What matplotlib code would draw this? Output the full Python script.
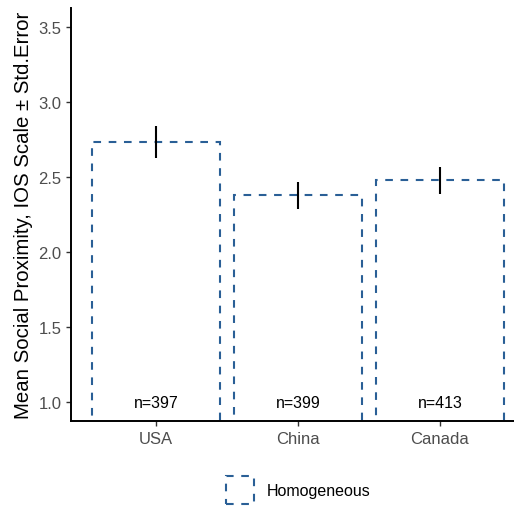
import matplotlib
matplotlib.use("Agg")
import matplotlib.pyplot as plt
from matplotlib.patches import Rectangle

plt.rcParams['font.family'] = ['Liberation Sans', 'DejaVu Sans']
plt.rcParams['lines.scale_dashes'] = False

# data
countries = ["USA", "China", "Canada"]
means = [2.735, 2.378, 2.478]
std_err = [0.107, 0.091, 0.091]
n_labels = ["n=397", "n=399", "n=413"]
y_ticks = [1.0, 1.5, 2.0, 2.5, 3.0, 3.5]

blue = "#2a5f96"
dash = (0, (5.5, 5.5))

fig = plt.figure(figsize=(5.14, 5.10), dpi=100)
# panel runs past the right edge, as in the reference crop
ax = fig.add_axes([71 / 514, 88 / 510, 454 / 514, 413 / 510])

x = list(range(len(countries)))
ax.bar(x, means, width=0.9, bottom=0, facecolor="white", edgecolor=blue,
       linewidth=1.5, linestyle=dash, zorder=2)
ax.errorbar(x, means, yerr=std_err, fmt="none", ecolor="black",
            elinewidth=1.5, capsize=0, zorder=3)
for xi, lab in zip(x, n_labels):
    ax.text(xi, 1.0, lab, ha="center", va="center", fontsize=11.5, zorder=4)

ax.set_xlim(-0.6, 2.6)
ax.set_ylim(0.875, 3.625)
ax.set_xticks(x)
ax.set_xticklabels(countries)
ax.set_yticks(y_ticks)
ax.set_yticklabels([f"{t:.1f}" for t in y_ticks])
ax.tick_params(colors="#333333", labelcolor="#4d4d4d", labelsize=12,
               length=3.5, width=1)
ax.set_ylabel("Mean Social Proximity, IOS Scale \u00b1 Std.Error",
              fontsize=14.7, labelpad=4)
for side in ["top", "right"]:
    ax.spines[side].set_visible(False)
for side in ["left", "bottom"]:
    ax.spines[side].set_linewidth(1.4)
    ax.spines[side].set_color("black")

# legend key, drawn in figure coordinates
key = Rectangle((226 / 514, 5 / 510), 28 / 514, 28 / 510, transform=fig.transFigure,
                facecolor="white", edgecolor=blue, linewidth=1.5, linestyle=dash)
fig.patches.append(key)
fig.text(267 / 514, 18 / 510, "Homogeneous", fontsize=11.5, va="center", ha="left")

fig.savefig("out.png", dpi=100)
